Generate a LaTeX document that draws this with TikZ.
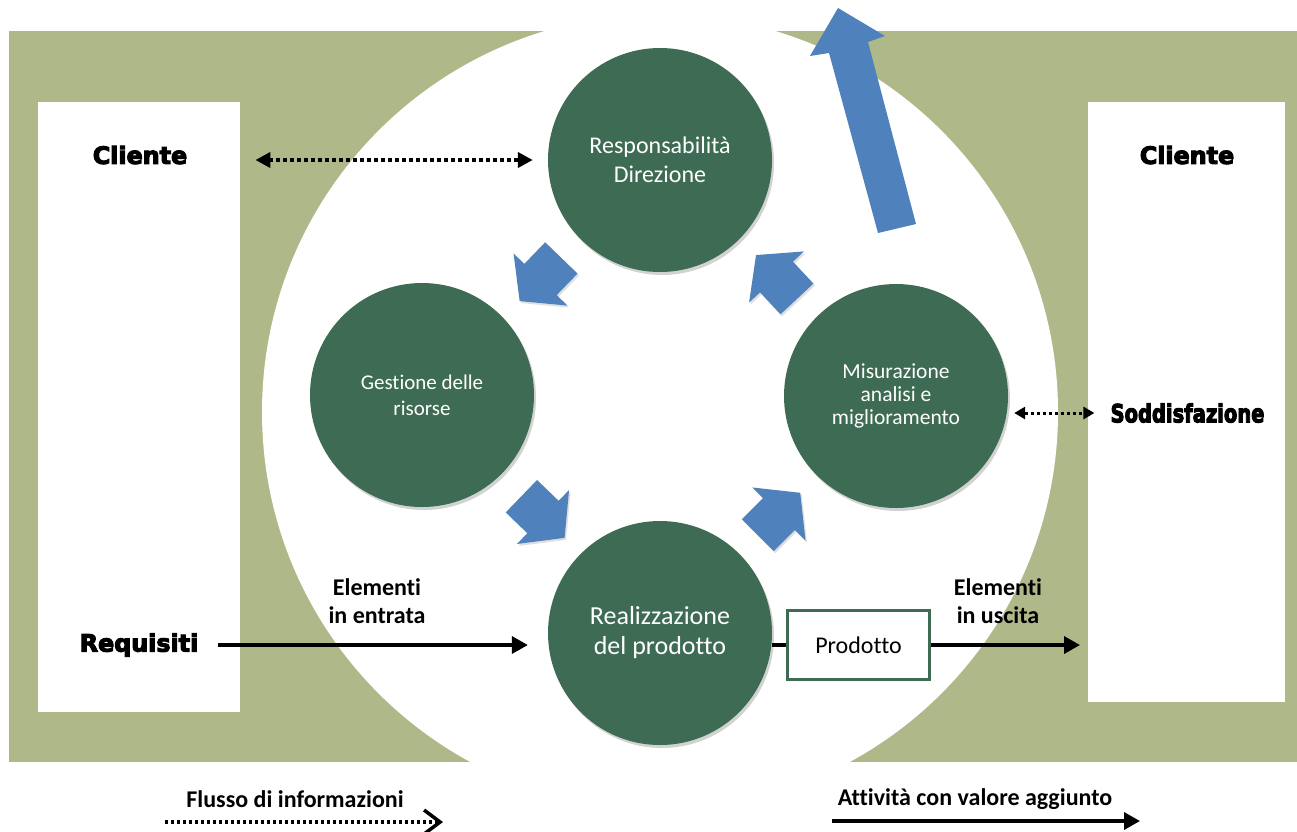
\documentclass[tikz,border=0pt]{standalone}
\usepackage{fontspec}
\usepackage{graphicx}
\setmainfont{Carlito}[Ligatures=CommonOff]
\newfontfamily\heavy{DejaVu Sans}[FakeBold=4.5]
\usetikzlibrary{arrows.meta,shadows}
\definecolor{olivebg}{RGB}{175,184,136}
\definecolor{dgreen}{RGB}{62,107,83}
\definecolor{arrblue}{RGB}{79,129,189}
\newcommand\blockarr[3]{%
  \fill[arrblue, drop shadow={opacity=0.25,shadow xshift=1.5pt,shadow yshift=-2pt}, shift={(#1,#2)}, rotate=#3]
    (-30,-22.5) -- (0,-22.5) -- (0,-37.5) -- (30,0) -- (0,37.5) -- (0,22.5) -- (-30,22.5) -- cycle;}
\begin{document}
\begin{tikzpicture}[x=1pt,y=-1pt,
  gcirc/.style={circle, fill=dgreen, minimum size=224pt, inner sep=0pt, text=white, align=center,
    drop shadow={opacity=0.35,shadow xshift=2pt,shadow yshift=-3pt}},
  heavytxt/.style={inner sep=0pt, font=\heavy\bfseries\fontsize{23.8}{26}\selectfont},
  lbl/.style={inner sep=0pt, align=center, font=\bfseries\fontsize{24}{28}\selectfont},
  solidarr/.style={line width=3.5pt, -{Triangle[length=16pt,width=17pt]}},
  dotarr/.style={line width=4pt, dash pattern=on 4pt off 3pt, {Triangle[length=15pt,width=15pt]}-{Triangle[length=15pt,width=15pt]}},
  dotarrs/.style={line width=3pt, dash pattern=on 3pt off 3pt, {Triangle[length=11pt,width=12pt]}-{Triangle[length=11pt,width=12pt]}}
]
\useasboundingbox (0,0) rectangle (1297,831);
% background
\fill[olivebg] (9,31) rectangle (1297,762);
\begin{scope}
  \clip (0,0) rectangle (1297,762);
  \fill[white] (660,412) circle[radius=398];
\end{scope}
\fill[white] (38,102) rectangle (240,712);
\fill[white] (1088,102) rectangle (1285,702);

% big blue arrow
\fill[arrblue] (878,233) -- (916,224) -- (868,42) -- (885,36) -- (838,8) -- (810,56) -- (829,53) -- cycle;

% block arrows
\blockarr{540.5}{279.5}{226}
\blockarr{543}{517}{316}
\blockarr{776.5}{277}{133}
\blockarr{779}{514}{45}

% circles
\node[gcirc, font=\fontsize{24}{29}\selectfont] (resp) at (660,160) {Responsabilità\\Direzione};
\node[gcirc, font=\fontsize{21}{26}\selectfont] (gest) at (422,395) {Gestione delle\\risorse};
\node[gcirc, font=\fontsize{21.5}{23}\selectfont] (mis) at (896,396) {Misurazione\\analisi e\\miglioramento};
\node[gcirc, font=\fontsize{26}{30}\selectfont] (real) at (660,633) {Realizzazione\\del prodotto};

% product box
\node[draw=dgreen, line width=3pt, fill=white, minimum width=142pt, minimum height=69pt, inner sep=0pt,
      font=\fontsize{24}{26}\selectfont] (prod) at (858.5,645) {Prodotto};

% texts
\node[heavytxt] (cliL) at (140,155) {Cliente};
\node[heavytxt] (cliR) at (1187,155) {Cliente};
\node[heavytxt] (req) at (139,645) {Requisiti};
\node[inner sep=0pt, font=\heavy\bfseries\fontsize{25}{28}\selectfont] (sodd) at (1187.5,413) {\scalebox{0.78}[1]{Soddisfazione}};
\node[lbl] (inlbl) at (377,601) {Elementi\\in entrata};
\node[lbl] (outlbl) at (998,601) {Elementi\\in uscita};
\node[lbl] (leg1) at (295,799) {Flusso di informazioni};
\node[lbl] (leg2) at (975,799) {Attività con valore aggiunto};

% connectors
\draw[solidarr, shorten <=20pt, shorten >=20pt] (req.east) -- (req.east -| real.west);
\draw[line width=3.5pt] (prod.west -| real.east) -- (prod.west);
\coordinate (outend) at (1080,645);
\draw[solidarr] (prod.east) -- (outend);
\draw[dotarr, shorten <=68pt, shorten >=15pt] (cliL.east |- resp.west) -- (resp.west);
\draw[dotarrs, shorten <=6pt, shorten >=16pt] (sodd.west -| mis.east) -- (sodd.west);

% legend
\coordinate (l1a) at (165,822);
\coordinate (l1b) at (443,822);
\draw[line width=3.5pt, dash pattern=on 3pt off 3pt, -{Straight Barb[length=16pt,width=24pt]}] (l1a) -- (l1b);
\coordinate (l2a) at (832,821);
\coordinate (l2b) at (1140,821);
\draw[solidarr] (l2a) -- (l2b);
\end{tikzpicture}
\end{document}
